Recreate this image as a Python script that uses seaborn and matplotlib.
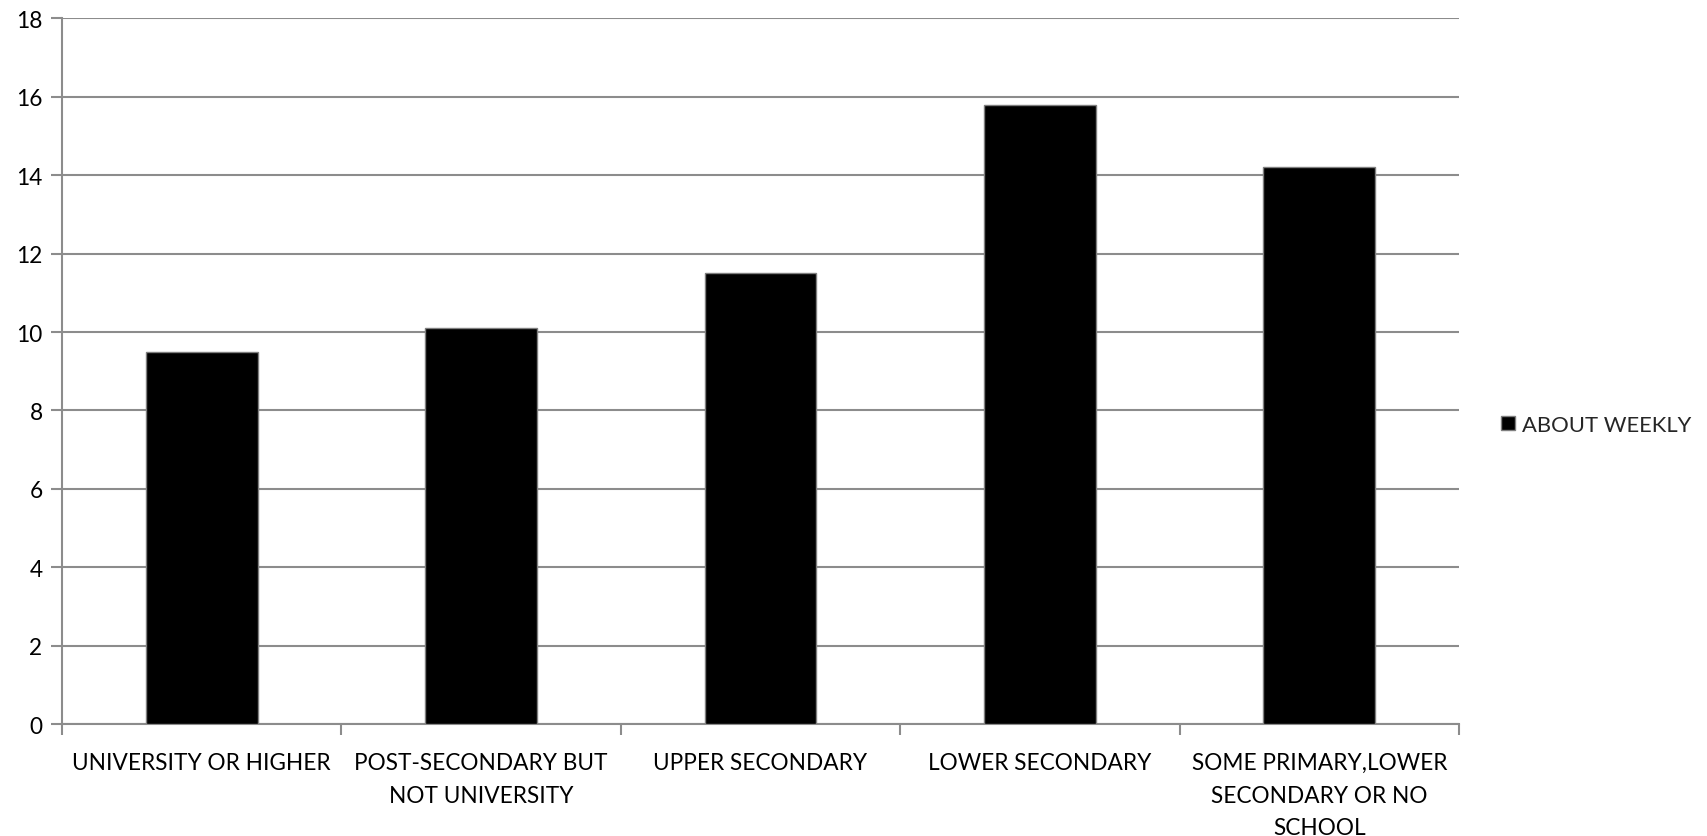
import matplotlib
matplotlib.use("Agg")
import matplotlib.pyplot as plt
import seaborn as sns
import pandas as pd
from matplotlib.ticker import MultipleLocator, FixedLocator, NullFormatter

categories = [
    "UNIVERSITY OR HIGHER",
    "POST-SECONDARY BUT NOT UNIVERSITY",
    "UPPER SECONDARY",
    "LOWER SECONDARY",
    "SOME PRIMARY,LOWER SECONDARY OR NO SCHOOL",
]
tick_labels = [
    "UNIVERSITY OR HIGHER",
    "POST-SECONDARY BUT\nNOT UNIVERSITY",
    "UPPER SECONDARY",
    "LOWER SECONDARY",
    "SOME PRIMARY,LOWER\nSECONDARY OR NO\nSCHOOL",
]
series_name = "ABOUT WEEKLY"
values = [9.5, 10.1, 11.5, 15.8, 14.2]

sns.set_theme(style="white")
plt.rcParams["font.family"] = ["Lato", "DejaVu Sans"]

df = pd.DataFrame({"category": categories, "value": values})

fig = plt.figure(figsize=(17.07, 8.37), dpi=100)
ax = fig.add_axes([0.0363, 0.1335, 0.8184, 0.8435])

grid_color = "#8c8c8c"
sns.barplot(data=df, x="category", y="value", color="black", width=0.4,
            edgecolor="#7f7f7f", linewidth=1.0, saturation=1, ax=ax,
            label=series_name, zorder=3)

ax.set_xlim(-0.5, len(categories) - 0.5)
ax.set_ylim(0, 18)
ax.yaxis.set_major_locator(MultipleLocator(2))
ax.grid(axis="y", color=grid_color, linewidth=1.5, zorder=0)
ax.set_axisbelow(True)

for side in ["top", "right"]:
    ax.spines[side].set_visible(False)
for side in ["left", "bottom"]:
    ax.spines[side].set_color(grid_color)
    ax.spines[side].set_linewidth(1.5)

ax.set_xticks(range(len(categories)))
ax.set_xticklabels(tick_labels, fontsize=16.3, color="black", linespacing=1.68)
ax.xaxis.set_minor_locator(FixedLocator([i - 0.5 for i in range(len(categories) + 1)]))
ax.xaxis.set_minor_formatter(NullFormatter())
ax.tick_params(axis="x", which="major", length=0, pad=20)
ax.tick_params(axis="x", which="minor", length=8, width=1.5, color=grid_color, bottom=True)
ax.tick_params(axis="y", length=8, width=1.5, color=grid_color, left=True,
               labelsize=16.3, labelcolor="black", pad=6)
ax.set_xlabel("")
ax.set_ylabel("")

handles, labels = ax.get_legend_handles_labels()
leg = ax.get_legend()
if leg is not None:
    leg.remove()
fig.legend(handles, labels, loc="center left", bbox_to_anchor=(0.8744, 0.491),
           frameon=False, fontsize=15.8, handlelength=0.62, handleheight=0.62,
           handletextpad=0.3, borderaxespad=0)

fig.savefig("out.png", dpi=100)
